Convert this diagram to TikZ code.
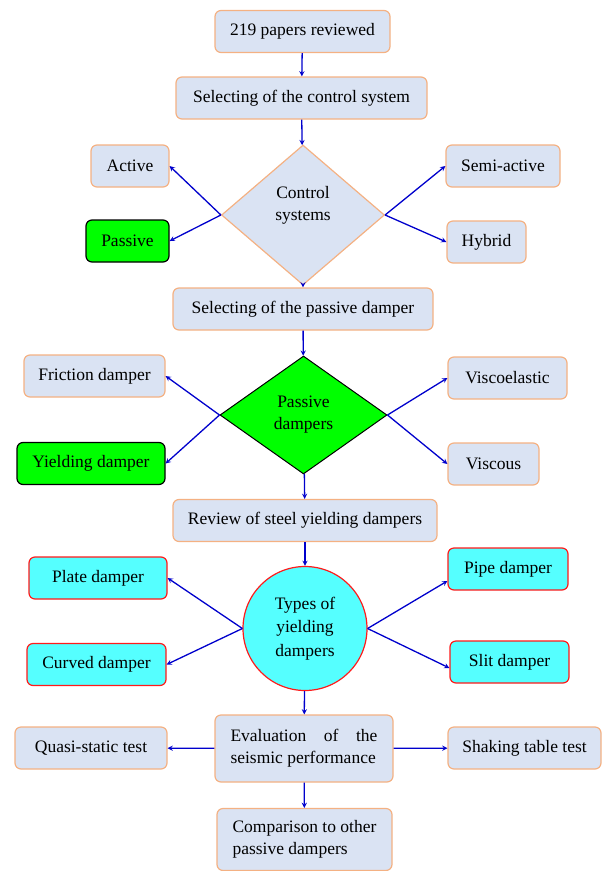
\documentclass[tikz,border=0pt]{standalone}
\usepackage{fontspec}
\setmainfont{Liberation Serif}
\usepackage{xcolor}
\usetikzlibrary{shapes.geometric}
\definecolor{boxfill}{HTML}{DAE3F3}
\definecolor{boxline}{HTML}{F4B183}
\definecolor{greenfill}{HTML}{00FF00}
\definecolor{cyanfill}{HTML}{55FFFF}
\definecolor{redline}{HTML}{FF1A1A}
\definecolor{linkcolor}{HTML}{0000CC}

\tikzset{
    basebox/.style = {rectangle, rounded corners = 6pt, minimum height = 42pt, line width = 1.2pt, font = \fontsize{17.5}{22}\selectfont},
    stepbox/.style = {basebox, fill = boxfill, draw = boxline},
    greenbox/.style = {basebox, fill = greenfill, draw = black},
    cyanbox/.style = {basebox, fill = cyanfill, draw = redline},
    link/.style = {->, > = stealth, draw = linkcolor, line width = 1.3pt}
}

\begin{document}
\begin{tikzpicture}
        \useasboundingbox (0pt, 0pt) rectangle (603pt, -871pt);

        % Nodes
        \node [stepbox, minimum width = 175pt] (papers) at (302.5pt, -31.5pt) {219 papers reviewed};
        \node [stepbox, minimum width = 251pt] (selctrl) at (301.5pt, -98pt) {Selecting of the control system};
        \node [diamond, fill = boxfill, draw = boxline, line width = 1.2pt, inner sep = 0pt, minimum width = 163pt, minimum height = 140pt, text depth = 24pt, align = center, font = \fontsize{17.5}{22}\selectfont] (ctrl) at (303pt, -215pt) {Control\\systems};
        \node [stepbox, minimum width = 78pt] (active) at (130pt, -166pt) {Active};
        \node [greenbox, minimum width = 83pt] (passive) at (127.5pt, -241pt) {Passive};
        \node [stepbox, minimum width = 114pt] (semi) at (503pt, -166pt) {Semi-active};
        \node [stepbox, minimum width = 79pt] (hybrid) at (486.5pt, -242pt) {Hybrid};

        \node [stepbox, minimum width = 260pt] (selpass) at (303pt, -309pt) {Selecting of the passive damper};
        \node [diamond, fill = greenfill, draw = black, line width = 1pt, inner sep = 0pt, minimum width = 167pt, minimum height = 118pt, align = center, font = \fontsize{17.5}{22}\selectfont] (pass) at (303.5pt, -415pt) {Passive\\dampers};
        \node [stepbox, minimum width = 141pt] (friction) at (94.5pt, -376pt) {Friction damper};
        \node [greenbox, minimum width = 148pt] (yielding) at (91pt, -463.5pt) {Yielding damper};
        \node [stepbox, minimum width = 119pt] (viscoel) at (507.5pt, -378pt) {Viscoelastic};
        \node [stepbox, minimum width = 91pt] (viscous) at (493.5pt, -464pt) {Viscous};

        \node [stepbox, minimum width = 264pt] (review) at (305pt, -520.5pt) {Review of steel yielding dampers};
        \node [circle, fill = cyanfill, draw = redline, line width = 1.2pt, inner sep = 0pt, minimum size = 124pt, align = center, font = \fontsize{17.5}{23.5}\selectfont] (types) at (305pt, -628.5pt) {Types of\\yielding\\dampers};
        \node [cyanbox, minimum width = 138pt] (plate) at (98pt, -578pt) {Plate damper};
        \node [cyanbox, minimum width = 139pt] (curved) at (96.5pt, -664.5pt) {Curved damper};
        \node [cyanbox, minimum width = 120pt] (pipe) at (508pt, -569pt) {Pipe damper};
        \node [cyanbox, minimum width = 119pt] (slit) at (509.5pt, -662pt) {Slit damper};

        \node [stepbox, minimum width = 178pt, minimum height = 67pt, text width = 147pt, align = justify] (eval) at (304pt, -748.5pt) {Evaluation of the seismic performance};
        \node [stepbox, minimum width = 152pt] (quasi) at (91pt, -748pt) {Quasi-static test};
        \node [stepbox, minimum width = 153pt] (shaking) at (524.5pt, -748pt) {Shaking table test};
        \node [stepbox, minimum width = 175pt, minimum height = 62pt, align = left] (compare) at (304.5pt, -839.5pt) {Comparison to other\\passive dampers};

        % Draw the links
        \draw [link] (papers) -- (selctrl);
        \draw [link] (selctrl) -- (ctrl);
        \draw [link] (ctrl.west) -- (active.east);
        \draw [link] (ctrl.west) -- (passive.east);
        \draw [link] (ctrl.east) -- (semi.west);
        \draw [link] (ctrl.east) -- (hybrid.west);
        \draw [link] (ctrl.south) -- (selpass);

        \draw [link] (selpass) -- (pass);
        \draw [link] (pass.west) -- (friction.east);
        \draw [link] (pass.west) -- (yielding.east);
        \draw [link] (pass.east) -- (viscoel.west);
        \draw [link] (pass.east) -- (viscous.west);
        \draw [link] (pass) -- (review);

        \draw [link] (review) -- (types);
        \draw [link] (types.west) -- (plate.east);
        \draw [link] (types.west) -- (curved.east);
        \draw [link] (types.east) -- ([yshift = -12pt] pipe.west);
        \draw [link] (types.east) -- ([yshift = -6pt] slit.west);
        \draw [link] (types) -- (eval);

        \draw [link] (eval) -- (quasi);
        \draw [link] (eval) -- (shaking);
        \draw [link] (eval) -- (compare);

    \end{tikzpicture}
\end{document}
